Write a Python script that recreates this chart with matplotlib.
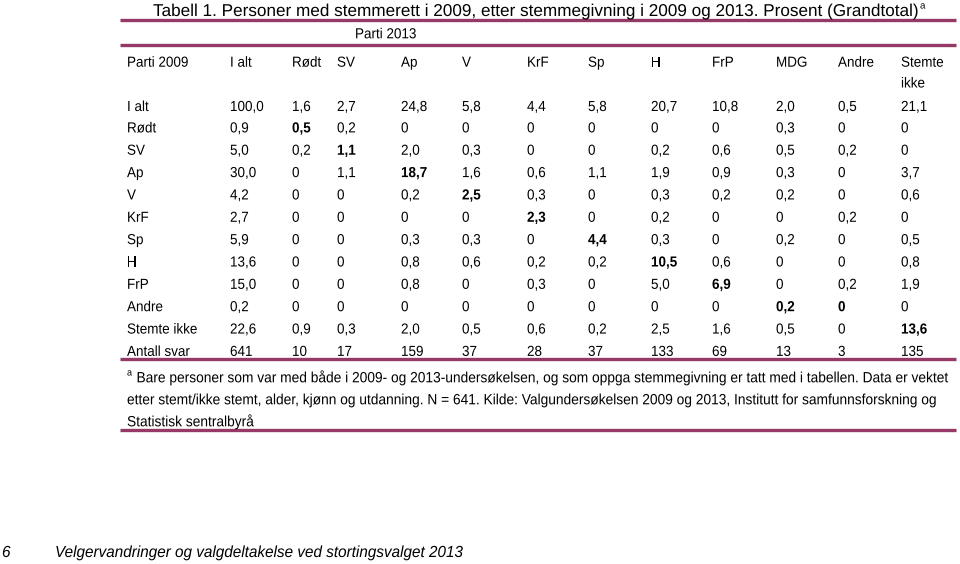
import matplotlib
matplotlib.use("Agg")
import matplotlib.pyplot as plt
import matplotlib.patheffects as pe
from matplotlib.transforms import Affine2D

plt.rcParams['font.family'] = ['Liberation Sans', 'DejaVu Sans']

title = "Tabell 1. Personer med stemmerett i 2009, etter stemmegivning i 2009 og 2013. Prosent (Grandtotal)"
spanner = "Parti 2013"
row_header = "Parti 2009"
columns = ["I alt", "Rødt", "SV", "Ap", "V", "KrF", "Sp", "H", "FrP", "MDG", "Andre", "Stemte\nikke"]
rows = ["I alt", "Rødt", "SV", "Ap", "V", "KrF", "Sp", "H", "FrP", "Andre", "Stemte ikke", "Antall svar"]
values = [
    ["100,0", "1,6", "2,7", "24,8", "5,8", "4,4", "5,8", "20,7", "10,8", "2,0", "0,5", "21,1"],
    ["0,9", "0,5", "0,2", "0", "0", "0", "0", "0", "0", "0,3", "0", "0"],
    ["5,0", "0,2", "1,1", "2,0", "0,3", "0", "0", "0,2", "0,6", "0,5", "0,2", "0"],
    ["30,0", "0", "1,1", "18,7", "1,6", "0,6", "1,1", "1,9", "0,9", "0,3", "0", "3,7"],
    ["4,2", "0", "0", "0,2", "2,5", "0,3", "0", "0,3", "0,2", "0,2", "0", "0,6"],
    ["2,7", "0", "0", "0", "0", "2,3", "0", "0,2", "0", "0", "0,2", "0"],
    ["5,9", "0", "0", "0,3", "0,3", "0", "4,4", "0,3", "0", "0,2", "0", "0,5"],
    ["13,6", "0", "0", "0,8", "0,6", "0,2", "0,2", "10,5", "0,6", "0", "0", "0,8"],
    ["15,0", "0", "0", "0,8", "0", "0,3", "0", "5,0", "6,9", "0", "0,2", "1,9"],
    ["0,2", "0", "0", "0", "0", "0", "0", "0", "0", "0,2", "0", "0"],
    ["22,6", "0,9", "0,3", "2,0", "0,5", "0,6", "0,2", "2,5", "1,6", "0,5", "0", "13,6"],
    ["641", "10", "17", "159", "37", "28", "37", "133", "69", "13", "3", "135"],
]
# (row index, column index) of bold cells
bold_cells = [(1, 1), (2, 2), (3, 3), (4, 4), (5, 5), (6, 6), (7, 7), (8, 8),
              (9, 9), (9, 10), (10, 11)]
footnote = [
    "Bare personer som var med både i 2009- og 2013-undersøkelsen, og som oppga stemmegivning er tatt med i tabellen. Data er vektet",
    "etter stemt/ikke stemt, alder, kjønn og utdanning. N = 641. Kilde: Valgundersøkelsen 2009 og 2013, Institutt for samfunnsforskning og",
    "Statistisk sentralbyrå",
]
page_number = "6"
page_footer = "Velgervandringer og valgdeltakelse ved stortingsvalget 2013"


class Stretch(pe.AbstractPathEffect):
    """Draw text outlines, stretched vertically about the baseline."""

    def __init__(self, sy=1.0):
        super().__init__()
        self.sy = sy

    def draw_path(self, renderer, gc, tpath, affine, rgbFace=None):
        renderer.draw_path(gc, tpath, Affine2D().scale(1, self.sy) + affine, rgbFace)


# layout (pixel coordinates)
W, H = 960, 564
fig = plt.figure(figsize=(W / 100, H / 100), dpi=100)
ax = fig.add_axes([0, 0, 1, 1])
ax.set_xlim(0, W)
ax.set_ylim(H, 0)
ax.axis('off')

line_color = '#953a66'
fs = 9.7
fs_note = 9.9
label_x = 127
col_x = [230, 292, 337, 401, 462, 527, 588, 651, 712, 776, 838, 901]
row_base0 = 111
row_base1, row_dy = 132.4, 22.35
x0, x1 = 120, 956


def txt(x, y, s, size, sy=1.08, **kw):
    return ax.text(x, y, s, fontsize=size, ha='left', va='baseline',
                   path_effects=[Stretch(sy)], **kw)


# title
t = txt(153, 16, title, 12.35, sy=1.0)
fig.canvas.draw()
bb = t.get_window_extent()
inv = ax.transData.inverted()
tx1 = inv.transform((bb.x1, bb.y1))
txt(tx1[0] + 1, 8.5, "a", 7, sy=1.0)

# rules
for y in [20, 44.5, 359, 430]:
    ax.plot([x0, x1], [y, y], color=line_color, lw=2.4, solid_capstyle='butt')

txt(355, 38.3, spanner, fs)
txt(label_x, 66.7, row_header, fs)
for cx, c in zip(col_x, columns):
    for k, p in enumerate(c.split('\n')):
        txt(cx, 66.7 + k * 20.8, p, fs)

bold = set(bold_cells)
for i, (rlab, rvals) in enumerate(zip(rows, values)):
    y = row_base0 if i == 0 else row_base1 + (i - 1) * row_dy
    txt(label_x, y, rlab, fs)
    for j, (cx, v) in enumerate(zip(col_x, rvals)):
        txt(cx, y, v, fs, fontweight='bold' if (i, j) in bold else 'normal')

# footnote
txt(127, 375.5, "a", 6.5)
for k, line in enumerate(footnote):
    xs = 136.5 if k == 0 else 127
    txt(xs, 382.3 + k * 22, line, fs_note)

txt(2, 557, page_number, 11, sy=1.05, style='italic')
txt(55, 557, page_footer, 11, sy=1.05, style='italic')

fig.savefig('out.png', dpi=100)
